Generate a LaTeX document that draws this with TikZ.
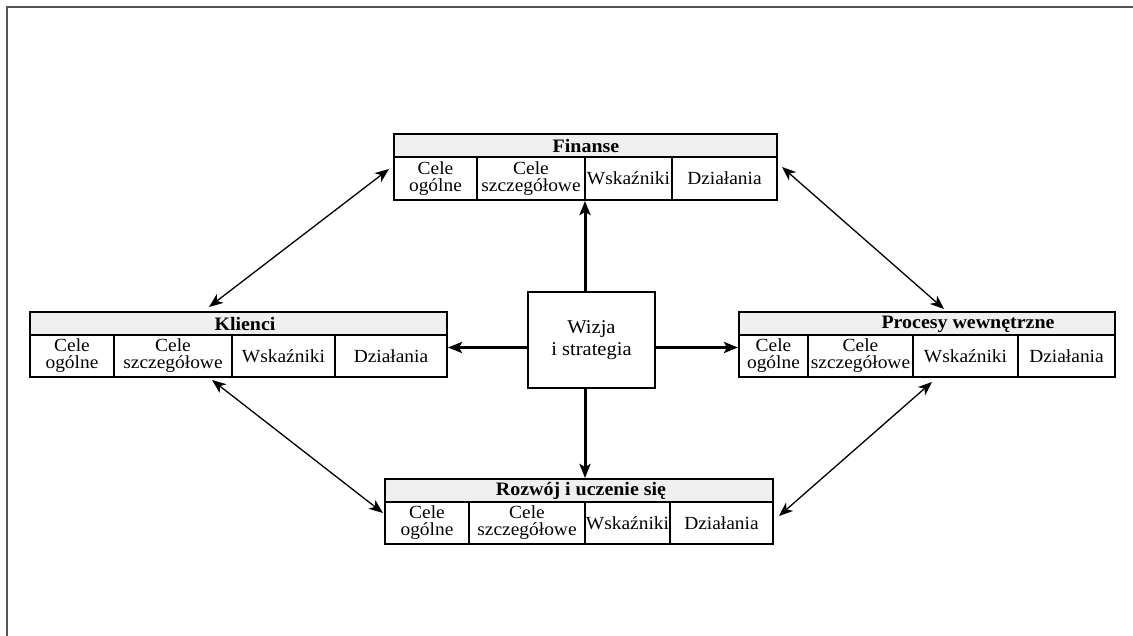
\documentclass[tikz,border=0pt]{standalone}
\usepackage{fontspec}
\setmainfont{Liberation Serif}[FakeStretch=1.05]
\usetikzlibrary{arrows.meta,calc}
\definecolor{titlefill}{HTML}{EFEFEF}
\definecolor{framegray}{HTML}{555555}
\tikzset{
  boxline/.style={draw=black, line width=2pt},
  cellbox/.style={boxline, inner sep=0pt, align=center, font=\fontsize{18.5}{17}\selectfont},
  titlerow/.style={boxline, fill=titlefill, inner sep=0pt},
  titletext/.style={inner sep=0pt, font=\fontsize{19}{20}\selectfont\bfseries},
  wizbox/.style={draw=black, line width=1.6pt, inner sep=0pt, align=center, font=\fontsize{19.5}{22}\selectfont},
  thinarrow/.style={line width=1.3pt, {Stealth[length=14pt,width=11pt,inset=4pt]}-{Stealth[length=14pt,width=11pt,inset=4pt]}},
  thickarrow/.style={line width=3pt, -{Stealth[length=14pt,width=11pt,inset=3pt]}},
  framel/.style={draw=framegray, line width=2pt},
}
\newcommand\mycell[6]{\node[cellbox, minimum width={(#3-#2)*1pt}, minimum height={(#5-#4)*1pt}] (#1) at ({(#2+#3)/2},{(#4+#5)/2}) {#6};}
\newcommand\myrow[5]{\node[titlerow, minimum width={(#3-#2)*1pt}, minimum height={(#5-#4)*1pt}] (#1) at ({(#2+#3)/2},{(#4+#5)/2}) {};}
\begin{document}
\begin{tikzpicture}[x=1pt,y=-1pt]
\useasboundingbox (0,0) rectangle (1133,636);
\draw[framel] (7,650) -- (7,7) -- (1150,7);

% Finanse
\myrow{fin-t}{394}{777}{134}{157}
\node[titletext] (fin-title) at (586,146) {Finanse};
\mycell{fin-c1}{394}{477}{157}{200}{Cele\\ogólne}
\mycell{fin-c2}{477}{585}{157}{200}{Cele\\szczegółowe}
\mycell{fin-c3}{585}{672}{157}{200}{Wskaźniki}
\mycell{fin-c4}{672}{777}{157}{200}{Działania}

% Klienci
\myrow{kl-t}{30}{447}{312}{335}
\node[titletext] (kl-title) at (245,324) {Klienci};
\mycell{kl-c1}{30}{114}{335}{377}{Cele\\ogólne}
\mycell{kl-c2}{114}{232}{335}{377}{Cele\\szczegółowe}
\mycell{kl-c3}{232}{335}{335}{377}{Wskaźniki}
\mycell{kl-c4}{335}{447}{335}{377}{Działania}

% Procesy wewnetrzne
\myrow{pr-t}{739}{1115}{312}{335}
\node[titletext] (pr-title) at (968,324) {Procesy wewnętrzne};
\mycell{pr-c1}{739}{808}{335}{377}{Cele\\ogólne}
\mycell{pr-c2}{808}{913}{335}{377}{Cele\\szczegółowe}
\mycell{pr-c3}{913}{1018}{335}{377}{Wskaźniki}
\mycell{pr-c4}{1018}{1115}{335}{377}{Działania}

% Rozwoj
\myrow{ro-t}{385}{773}{479}{502}
\node[titletext] (ro-title) at (581,491) {Rozwój i uczenie się};
\mycell{ro-c1}{385}{469}{502}{544}{Cele\\ogólne}
\mycell{ro-c2}{469}{585}{502}{544}{Cele\\szczegółowe}
\mycell{ro-c3}{585}{670}{502}{544}{Wskaźniki}
\mycell{ro-c4}{670}{773}{502}{544}{Działania}

% Wizja
\node[wizbox, minimum width=127pt, minimum height=96pt] (wiz) at (591.5,340) {Wizja\\i strategia};

% thick arrows
\coordinate (ax) at (585,0);
\coordinate (ay) at (0,347.5);
\draw[thickarrow] (ax |- wiz.north) -- (ax |- fin-c2.south);
\draw[thickarrow] (ax |- wiz.south) -- (ax |- ro-t.north);
\draw[thickarrow] (ay -| wiz.west) -- (ay -| kl-c4.east);
\draw[thickarrow] (ay -| wiz.east) -- (ay -| pr-c1.west);

% thin double arrows
\draw[thinarrow] ($(kl-t.north west)+(180,-4)$) -- ($(fin-c1.north west)+(-4,13)$);
\draw[thinarrow] ($(fin-c4.north east)+(4,11)$) -- ($(pr-t.north west)+(206,-2)$);
\draw[thinarrow] ($(kl-c2.south west)+(99,2)$) -- ($(ro-c1.north west)+(-1,12)$);
\draw[thinarrow] ($(pr-c3.south west)+(20,4)$) -- ($(ro-c4.north east)+(5,15)$);
\end{tikzpicture}
\end{document}
